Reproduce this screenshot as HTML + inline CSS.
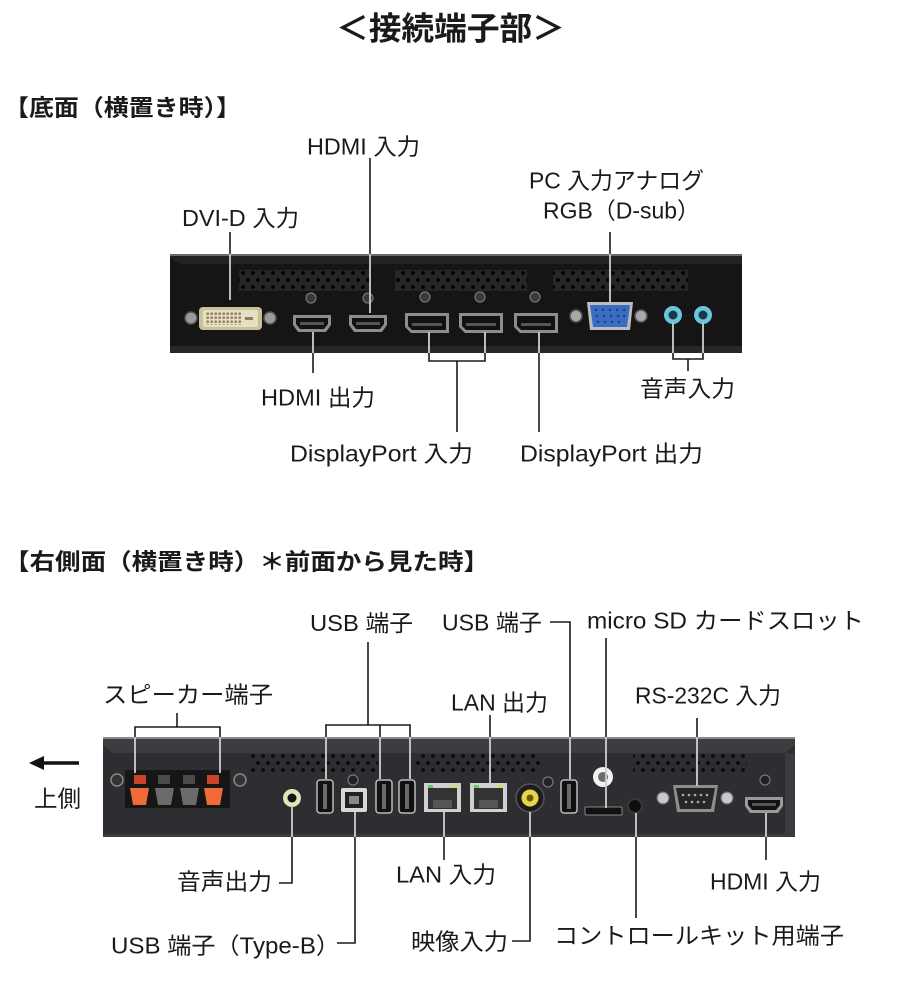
<!DOCTYPE html>
<html><head><meta charset="utf-8">
<style>
html,body{margin:0;padding:0;background:#fff;}
svg{display:block;}
text{font-family:"Liberation Sans","Noto Sans CJK JP",sans-serif;fill:#1a1a1a;font-size:23px;}
.b{font-weight:bold;}
</style></head><body>
<svg width="900" height="1001" viewBox="0 0 900 1001" xmlns="http://www.w3.org/2000/svg">
<defs>
 <pattern id="v1" width="10" height="14" patternUnits="userSpaceOnUse" x="0" y="270">
   <rect width="10" height="14" fill="#262626"/>
   <circle cx="3" cy="3" r="1.9" fill="#000"/>
   <circle cx="8" cy="10" r="1.9" fill="#000"/>
 </pattern>
 <pattern id="v2" width="10" height="14" patternUnits="userSpaceOnUse" x="0" y="753">
   <circle cx="3" cy="3" r="1.9" fill="#0a0a0a"/>
   <circle cx="8" cy="10" r="1.9" fill="#0a0a0a"/>
 </pattern>
 <pattern id="pins" width="4" height="4" patternUnits="userSpaceOnUse" x="206" y="312">
   <rect width="4" height="4" fill="#e6dfc4"/>
   <rect x="0.5" y="0.5" width="2.4" height="2.4" fill="#8a7f5a"/>
 </pattern>
 <clipPath id="panels">
   <rect x="170" y="254" width="572" height="99"/>
   <rect x="103" y="737" width="692" height="100"/>
 </clipPath>
 <g id="L" fill="none">
   <path d="M230 232 V300"/>
   <path d="M370 158 V313"/>
   <path d="M610 232 V303"/>
   <path d="M313 332 V373"/>
   <path d="M429 332 V361 H485 V332"/>
   <path d="M457 361 V432"/>
   <path d="M539 332 V432"/>
   <path d="M673 323 V359 H703 V323"/>
   <path d="M688 359 V371"/>
   <path d="M177 713 V727"/>
   <path d="M135 773 V727 H220 V773"/>
   <path d="M368 642 V725"/>
   <path d="M326 779 V725 H410 V779"/>
   <path d="M380 725 V779"/>
   <path d="M550 622 H570 V779"/>
   <path d="M606 638 V808"/>
   <path d="M490 715 V783"/>
   <path d="M697 718 V786"/>
   <path d="M292 806 V883 H279"/>
   <path d="M355 812 V943 H337"/>
   <path d="M444 812 V860"/>
   <path d="M530 812 V941 H512"/>
   <path d="M636 813 V918"/>
   <path d="M766 813 V860"/>
 </g>
</defs>

<!-- ========== TOP PANEL ========== -->
<rect x="170" y="254" width="572" height="99" fill="#151515"/>
<path d="M170 256 H742 V264 H180 L170 258 Z" fill="#222"/>
<rect x="170" y="254" width="572" height="2" fill="#6a6a6a"/>
<rect x="170" y="346" width="572" height="7" fill="#262626"/>
<rect x="239" y="270" width="131" height="21" fill="url(#v1)"/>
<rect x="395" y="270" width="132" height="21" fill="url(#v1)"/>
<rect x="553" y="270" width="135" height="21" fill="url(#v1)"/>

<!-- DVI -->
<circle cx="191" cy="318" r="6" fill="#9a9a9a" stroke="#555" stroke-width="1.5"/>
<circle cx="270" cy="318" r="6" fill="#9a9a9a" stroke="#555" stroke-width="1.5"/>
<rect x="199" y="307" width="63" height="23" rx="4" fill="#c9c09a"/>
<rect x="203" y="310" width="55" height="17" rx="2" fill="#e6dfc4"/>
<rect x="206" y="312" width="36" height="13" fill="url(#pins)"/>
<rect x="245" y="317" width="8" height="3" fill="#8a7f5a"/>

<!-- screws top -->
<g fill="#3a3a3a" stroke="#777" stroke-width="1.2">
 <circle cx="311" cy="298" r="5"/><circle cx="368" cy="298" r="5"/>
 <circle cx="425" cy="297" r="5"/><circle cx="480" cy="297" r="5"/>
 <circle cx="535" cy="297" r="5"/>
</g>

<!-- HDMI top -->
<path d="M293 315 H331 V325 L326 332 H298 L293 325 Z" fill="#8d8d8d"/>
<path d="M296 318 H328 V324 L324 329 H300 L296 324 Z" fill="#111"/>
<rect x="300" y="322" width="24" height="3" fill="#555"/>
<path d="M349 315 H387 V325 L382 332 H354 L349 325 Z" fill="#8d8d8d"/>
<path d="M352 318 H384 V324 L380 329 H356 L352 324 Z" fill="#111"/>
<rect x="356" y="322" width="24" height="3" fill="#555"/>

<!-- DisplayPorts -->
<path d="M405 313 H449 V333 H411 L405 327 Z" fill="#8d8d8d"/>
<path d="M408 316 H446 V330 H412 L408 326 Z" fill="#111"/>
<rect x="412" y="323" width="30" height="3" fill="#555"/>
<path d="M459 313 H503 V333 H465 L459 327 Z" fill="#8d8d8d"/>
<path d="M462 316 H500 V330 H466 L462 326 Z" fill="#111"/>
<rect x="466" y="323" width="30" height="3" fill="#555"/>
<path d="M514 313 H558 V333 H520 L514 327 Z" fill="#8d8d8d"/>
<path d="M517 316 H555 V330 H521 L517 326 Z" fill="#111"/>
<rect x="521" y="323" width="30" height="3" fill="#555"/>

<!-- VGA -->
<circle cx="576" cy="316" r="6" fill="#a8a8a8" stroke="#555" stroke-width="1.5"/>
<circle cx="641" cy="316" r="6" fill="#a8a8a8" stroke="#555" stroke-width="1.5"/>
<path d="M587 302 H633 L630 330 H590 Z" fill="#bdbdbd"/>
<path d="M590 305 H630 L627 327 H593 Z" fill="#3b6cc4"/>
<g fill="#1d3e7a">
 <circle cx="596" cy="310" r="1.2"/><circle cx="603" cy="310" r="1.2"/><circle cx="610" cy="310" r="1.2"/><circle cx="617" cy="310" r="1.2"/><circle cx="624" cy="310" r="1.2"/>
 <circle cx="597" cy="316" r="1.2"/><circle cx="604" cy="316" r="1.2"/><circle cx="611" cy="316" r="1.2"/><circle cx="618" cy="316" r="1.2"/><circle cx="624" cy="316" r="1.2"/>
 <circle cx="598" cy="322" r="1.2"/><circle cx="605" cy="322" r="1.2"/><circle cx="612" cy="322" r="1.2"/><circle cx="619" cy="322" r="1.2"/>
</g>

<!-- Audio jacks -->
<circle cx="673" cy="315" r="9" fill="#6cc3da"/><circle cx="673" cy="315" r="4.5" fill="#173a48"/>
<circle cx="703" cy="315" r="9" fill="#6cc3da"/><circle cx="703" cy="315" r="4.5" fill="#173a48"/>

<!-- ========== BOTTOM PANEL ========== -->
<rect x="103" y="737" width="692" height="100" fill="#2d2e31"/>
<path d="M103 737 H795 V745 L785 753 H113 L103 745 Z" fill="#3c3d40"/>
<rect x="103" y="737" width="692" height="2" fill="#8a8a8a"/>
<rect x="785" y="753" width="10" height="84" fill="#3a3b3e"/>
<rect x="103" y="834" width="692" height="3" fill="#3a3b3e"/>
<rect x="250" y="753" width="128" height="21" fill="url(#v2)"/>
<rect x="415" y="753" width="125" height="21" fill="url(#v2)"/>
<rect x="633" y="753" width="114" height="21" fill="url(#v2)"/>

<!-- speaker block -->
<circle cx="117" cy="780" r="6" fill="#333" stroke="#888" stroke-width="1.5"/>
<circle cx="240" cy="780" r="6" fill="#333" stroke="#888" stroke-width="1.5"/>
<rect x="125" y="770" width="105" height="38" fill="#161616"/>
<rect x="134" y="775" width="12" height="9" fill="#c8452a"/>
<path d="M130 788 H149 L146 805 H133 Z" fill="#f06a3a"/>
<rect x="158" y="775" width="12" height="9" fill="#4a4a4a"/>
<path d="M155 788 H174 L171 805 H158 Z" fill="#6b6b6b"/>
<rect x="183" y="775" width="12" height="9" fill="#4a4a4a"/>
<path d="M180 788 H199 L196 805 H183 Z" fill="#6b6b6b"/>
<rect x="207" y="775" width="12" height="9" fill="#c8452a"/>
<path d="M204 788 H223 L220 805 H207 Z" fill="#f06a3a"/>

<!-- audio out -->
<circle cx="292" cy="798" r="9" fill="#dfe5b8"/><circle cx="292" cy="798" r="4.5" fill="#151515"/>

<!-- USB-A ports -->
<g fill="#111" stroke="#bbb" stroke-width="1.5">
 <rect x="317" y="780" width="16" height="33" rx="3"/>
 <rect x="376" y="780" width="16" height="33" rx="3"/>
 <rect x="399" y="780" width="16" height="33" rx="3"/>
 <rect x="561" y="780" width="16" height="33" rx="3"/>
</g>
<g fill="#6a6a6a">
 <rect x="323" y="784" width="4" height="25"/>
 <rect x="382" y="784" width="4" height="25"/>
 <rect x="405" y="784" width="4" height="25"/>
 <rect x="567" y="784" width="4" height="25"/>
</g>

<!-- USB-B -->
<circle cx="353" cy="780" r="5" fill="#222" stroke="#777" stroke-width="1.2"/>
<rect x="341" y="788" width="26" height="24" rx="2" fill="#d8d8d8"/>
<rect x="345" y="792" width="18" height="16" fill="#222"/>
<rect x="349" y="796" width="10" height="8" fill="#888"/>

<!-- LAN -->
<rect x="424" y="783" width="37" height="29" fill="#d0d0d0"/>
<rect x="428" y="788" width="29" height="21" fill="#333"/>
<rect x="428" y="785" width="5" height="3" fill="#6c6"/><rect x="452" y="785" width="5" height="3" fill="#dd5"/>
<rect x="433" y="800" width="19" height="8" fill="#555"/>
<rect x="470" y="783" width="37" height="29" fill="#d0d0d0"/>
<rect x="474" y="788" width="29" height="21" fill="#333"/>
<rect x="474" y="785" width="5" height="3" fill="#6c6"/><rect x="498" y="785" width="5" height="3" fill="#dd5"/>
<rect x="479" y="800" width="19" height="8" fill="#555"/>

<!-- RCA -->
<circle cx="548" cy="782" r="5" fill="#222" stroke="#777" stroke-width="1.2"/>
<circle cx="530" cy="798" r="14" fill="#1c1c1c" stroke="#555" stroke-width="1.5"/>
<circle cx="530" cy="798" r="8.5" fill="#e5d64a"/>
<circle cx="530" cy="798" r="3.5" fill="#6a5a10"/>

<!-- white ring, SD, control -->
<circle cx="603" cy="777" r="10" fill="#f2f2f2"/><circle cx="603" cy="777" r="5" fill="#6b6b6b"/>
<rect x="585" y="807" width="37" height="8" rx="1" fill="#111" stroke="#888" stroke-width="1"/>
<circle cx="635" cy="806" r="7" fill="#0e0e0e" stroke="#3a3a3a" stroke-width="2"/>

<!-- DB9 -->
<circle cx="663" cy="798" r="6" fill="#c8c8c8" stroke="#666" stroke-width="1.2"/>
<circle cx="727" cy="798" r="6" fill="#c8c8c8" stroke="#666" stroke-width="1.2"/>
<path d="M673 785 H718 L714 812 H677 Z" fill="#8e8e8e"/>
<path d="M676 788 H715 L711 809 H680 Z" fill="#262626"/>
<g fill="#aaa">
 <circle cx="683" cy="795" r="1.3"/><circle cx="689" cy="795" r="1.3"/><circle cx="695" cy="795" r="1.3"/><circle cx="701" cy="795" r="1.3"/><circle cx="707" cy="795" r="1.3"/>
 <circle cx="686" cy="802" r="1.3"/><circle cx="692" cy="802" r="1.3"/><circle cx="698" cy="802" r="1.3"/><circle cx="704" cy="802" r="1.3"/>
</g>

<!-- HDMI bottom -->
<circle cx="765" cy="780" r="5" fill="#222" stroke="#777" stroke-width="1.2"/>
<path d="M745 797 H783 V806 L778 813 H750 L745 806 Z" fill="#999"/>
<path d="M748 800 H780 V805 L776 810 H752 L748 805 Z" fill="#111"/>
<rect x="752" y="803" width="24" height="3" fill="#555"/>

<!-- connector lines -->
<use href="#L" stroke="#1a1a1a" stroke-width="1.6"/>
<use href="#L" stroke="#e6e6e6" stroke-width="1.6" clip-path="url(#panels)"/>

<!-- arrow -->
<line x1="42" y1="763" x2="79" y2="763" stroke="#111" stroke-width="3.5"/>
<polygon points="29,763 44,756 44,770" fill="#111"/>

<!-- ========== TEXT ========== -->
<text class="b" x="336" y="39.5" font-size="32" style="font-size:32px" textLength="229" lengthAdjust="spacingAndGlyphs">＜接続端子部＞</text>
<text class="b" x="4" y="115.5" textLength="237" lengthAdjust="spacingAndGlyphs">【底面（横置き時）】</text>
<text x="307" y="154.5" textLength="113" lengthAdjust="spacingAndGlyphs">HDMI 入力</text>
<text x="529" y="188.5" textLength="175" lengthAdjust="spacingAndGlyphs">PC 入力アナログ</text>
<text x="543" y="218.5" textLength="157" lengthAdjust="spacingAndGlyphs">RGB（D-sub）</text>
<text x="182" y="226" textLength="117" lengthAdjust="spacingAndGlyphs">DVI-D 入力</text>
<text x="261" y="405.5" textLength="114" lengthAdjust="spacingAndGlyphs">HDMI 出力</text>
<text x="640" y="396.5" textLength="95" lengthAdjust="spacingAndGlyphs">音声入力</text>
<text x="290" y="461.5" textLength="183" lengthAdjust="spacingAndGlyphs">DisplayPort 入力</text>
<text x="520" y="461.5" textLength="183" lengthAdjust="spacingAndGlyphs">DisplayPort 出力</text>

<text class="b" x="4" y="569.5" textLength="485" lengthAdjust="spacingAndGlyphs">【右側面（横置き時）＊前面から見た時】</text>
<text x="310" y="631" textLength="103" lengthAdjust="spacingAndGlyphs">USB 端子</text>
<text x="442" y="630.5" textLength="100" lengthAdjust="spacingAndGlyphs">USB 端子</text>
<text x="587" y="628.5" textLength="277" lengthAdjust="spacingAndGlyphs">micro SD カードスロット</text>
<text x="103" y="702.5" textLength="170" lengthAdjust="spacingAndGlyphs">スピーカー端子</text>
<text x="451" y="710.5" textLength="97" lengthAdjust="spacingAndGlyphs">LAN 出力</text>
<text x="635" y="703.5" textLength="146" lengthAdjust="spacingAndGlyphs">RS-232C 入力</text>
<text x="34" y="806.5" textLength="47" lengthAdjust="spacingAndGlyphs">上側</text>
<text x="177" y="889.5" textLength="95" lengthAdjust="spacingAndGlyphs">音声出力</text>
<text x="111" y="953.5" textLength="229" lengthAdjust="spacingAndGlyphs">USB 端子（Type-B）</text>
<text x="396" y="882.5" textLength="100" lengthAdjust="spacingAndGlyphs">LAN 入力</text>
<text x="411" y="949.5" textLength="97" lengthAdjust="spacingAndGlyphs">映像入力</text>
<text x="554" y="943.5" textLength="290" lengthAdjust="spacingAndGlyphs">コントロールキット用端子</text>
<text x="710" y="889.5" textLength="111" lengthAdjust="spacingAndGlyphs">HDMI 入力</text>
</svg>
</body></html>
